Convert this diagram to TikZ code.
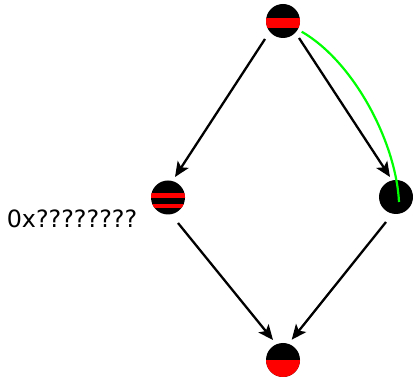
\documentclass[tikz,border=0pt]{standalone}
\usepackage{fontspec}
\setmainfont{DejaVu Sans}
\usetikzlibrary{arrows.meta,calc}
\definecolor{pgreen}{RGB}{0,255,0}
\tikzset{
  ball/.style={circle, minimum size=34pt, inner sep=0pt, fill=black, draw=none},
  edge/.style={line width=2.3pt, -{Stealth[length=15pt,width=13pt,inset=3.5pt]}},
  lbl/.style={inner sep=0pt, font=\fontsize{23.8pt}{28pt}\selectfont}
}
\begin{document}
\begin{tikzpicture}[x=1pt,y=-1pt]
\useasboundingbox (0,0) rectangle (413,379);
\node[ball, path picture={\fill[red] ($(path picture bounding box.center)+(-20,-3)$) rectangle ($(path picture bounding box.center)+(20,7)$);}] (t) at (283,21) {};
\node[ball, path picture={
  \fill[red] ($(path picture bounding box.center)+(-20,-4)$) rectangle ($(path picture bounding box.center)+(20,1)$);
  \fill[red] ($(path picture bounding box.center)+(-20,7)$) rectangle ($(path picture bounding box.center)+(20,11)$);}] (l) at (168,197.5) {};
\node[ball] (r) at (396,197) {};
\node[ball, path picture={\fill[red] (path picture bounding box.center) ++(-20,0) rectangle ++(40,20);}] (b) at (283,360) {};
\node[lbl] (lab) at (72,219) {0x????????};
\draw[edge] ($(t)+(-18,18)$) -- ($(l)+(7,-20.5)$);
\draw[edge] ($(t)+(16,17)$) -- ($(r)+(-6,-20)$);
\draw[edge] ($(l)+(10,25.5)$) -- ($(b)+(-10,-20)$);
\draw[edge] ($(r)+(-10,25)$) -- ($(b)+(8.7,-20.3)$);
\draw[pgreen, line width=2.2pt] ($(t)+(18.7,10.7)$) .. controls ($(t)+(70.7,40.7)$) and ($(r)+(0,-55)$) .. ($(r)+(3,5)$);
\end{tikzpicture}
\end{document}
